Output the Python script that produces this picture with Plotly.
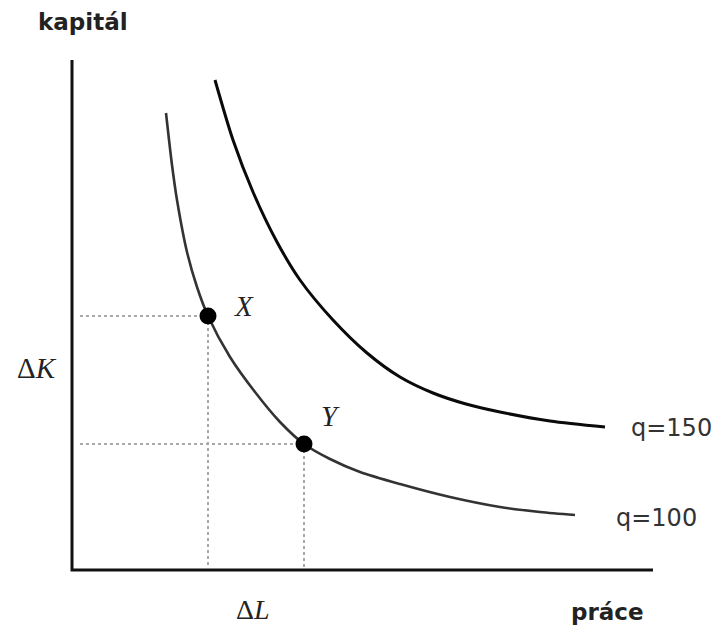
import plotly.graph_objects as go

# Isoquant data (labour L, capital K)
labour_q100 = [1.88, 2.00, 2.10, 2.30, 2.50, 2.72, 3.16, 3.66, 4.16, 4.64,
               5.16, 5.76, 6.56, 7.56, 8.56, 9.36, 10.06]
capital_q100 = [9.14, 8.10, 7.40, 6.36, 5.66, 5.08, 4.26, 3.56, 2.96, 2.52,
                2.22, 1.96, 1.72, 1.46, 1.26, 1.16, 1.10]

labour_q150 = [2.86, 3.22, 3.62, 4.10, 4.56, 5.22, 5.90, 6.56, 7.22, 7.88, 8.56, 9.56, 10.66]
capital_q150 = [9.80, 8.60, 7.56, 6.56, 5.80, 5.00, 4.34, 3.86, 3.54, 3.32, 3.16, 2.98, 2.86]

point_names = ["X", "Y"]
point_labour = [2.72, 4.64]
point_capital = [5.08, 2.52]

curve_labels = ["q=100", "q=150"]
axis_x_title = "práce"
axis_y_title = "kapitál"

AX_X_MAX = 11.62
AX_Y_MAX = 10.2
Y_MIN, Y_MAX = -1.14, 11.4

fig = go.Figure()

# axes (corner)
fig.add_trace(go.Scatter(x=[0, 0, AX_X_MAX], y=[AX_Y_MAX, 0, 0], mode="lines",
                         line=dict(color="#111", width=3), hoverinfo="skip"))

# dotted guide lines
for L, K in zip(point_labour, point_capital):
    fig.add_trace(go.Scatter(x=[0.16, L], y=[K, K], mode="lines",
                             line=dict(color="#a8a8a8", width=2, dash="3px,3px"), hoverinfo="skip"))
    fig.add_trace(go.Scatter(x=[L, L], y=[K, 0.04], mode="lines",
                             line=dict(color="#a8a8a8", width=2, dash="3px,3px"), hoverinfo="skip"))

# isoquants
fig.add_trace(go.Scatter(x=labour_q100, y=capital_q100, mode="lines",
                         line=dict(color="#333", width=2.6, shape="spline", smoothing=0.8)))
fig.add_trace(go.Scatter(x=labour_q150, y=capital_q150, mode="lines",
                         line=dict(color="#0a0a0a", width=3, shape="spline", smoothing=0.8)))

# points
fig.add_trace(go.Scatter(x=point_labour, y=point_capital, mode="markers",
                         marker=dict(color="#000", size=17, line=dict(width=0))))

serif = "Liberation Serif"
sans = "DejaVu Sans"
ann = [
    dict(x=0.21, y=10.96, text="<b>" + axis_y_title + "</b>", font=dict(family=sans, size=23, color="#222")),
    dict(x=10.7, y=Y_MIN, yanchor="bottom", text="<b>" + axis_x_title + "</b>",
         font=dict(family=sans, size=23, color="#222")),
    dict(x=3.62, y=Y_MIN, yanchor="bottom", text="Δ<i>L</i>", font=dict(family=serif, size=28, color="#222")),
    dict(x=-0.70, y=4.04, text="Δ<i>K</i>", font=dict(family=serif, size=29, color="#222")),
    dict(x=3.44, y=5.28, text="<i>" + point_names[0] + "</i>", font=dict(family=serif, size=29, color="#222")),
    dict(x=5.16, y=3.08, text="<i>" + point_names[1] + "</i>", font=dict(family=serif, size=29, color="#222")),
    dict(x=11.14, y=2.84, text=curve_labels[1], xanchor="left", font=dict(family=sans, size=24, color="#333")),
    dict(x=10.84, y=1.04, text=curve_labels[0], xanchor="left", font=dict(family=sans, size=24, color="#333")),
]
for a in ann:
    a.setdefault("xanchor", "center")
    a.setdefault("yanchor", "middle")
    a.update(showarrow=False, xref="x", yref="y")

fig.update_layout(
    width=718, height=627,
    margin=dict(l=0, r=0, t=0, b=0),
    paper_bgcolor="white", plot_bgcolor="white",
    showlegend=False,
    annotations=ann,
    xaxis=dict(range=[-1.44, 12.92], visible=False, fixedrange=True),
    yaxis=dict(range=[Y_MIN, Y_MAX], visible=False, fixedrange=True),
)

fig.write_html("out.html",
               post_script="document.body.style.margin='0px';document.body.style.overflow='hidden';",
               config={"displayModeBar": False})
